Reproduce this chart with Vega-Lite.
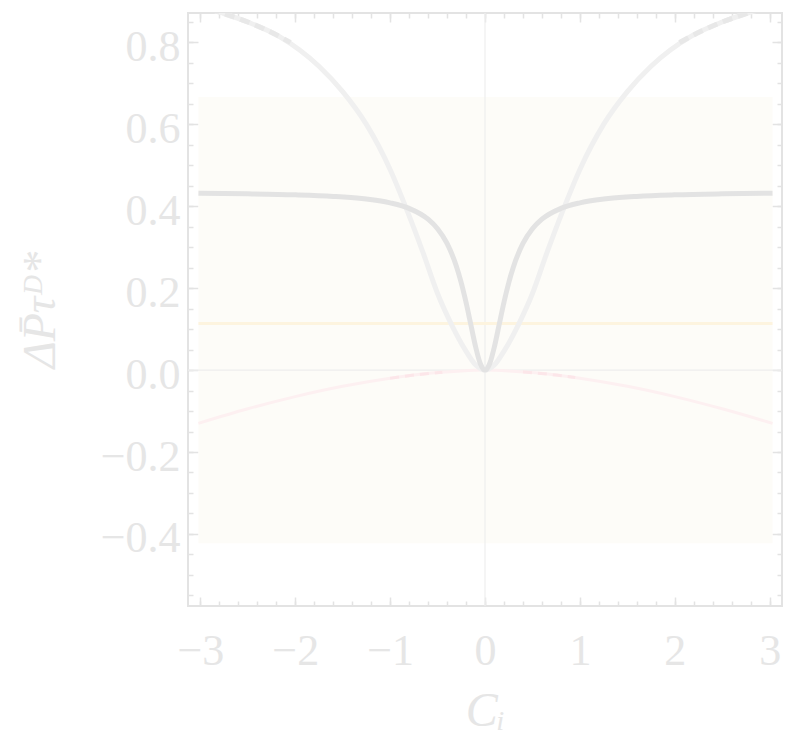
{
  "$schema": "https://vega.github.io/schema/vega-lite/v6.json",
  "width": 594,
  "height": 593,
  "autosize": {"type": "none"},
  "padding": {"left": 188, "top": 13, "right": 23, "bottom": 128},
  "background": "white",
  "config": {
    "view": {"stroke": "#e3e3e3", "strokeWidth": 2},
    "axis": {
      "domain": false,
      "grid": false,
      "labelFont": "Liberation Serif, DejaVu Serif, serif",
      "labelFontSize": 44,
      "labelColor": "#e6e6e6",
      "labelOverlap": false,
      "labelFlush": false,
      "tickColor": "#e3e3e3",
      "tickWidth": 1.5,
      "titleFont": "Liberation Serif, DejaVu Serif, serif",
      "titleColor": "#e6e6e6",
      "titleFontWeight": "normal"
    }
  },
  "datasets": {
    "band": [{"x1": -3.02, "x2": 3.03, "y1": -0.423, "y2": 0.667}],
    "zero": [{"z": 0}],
    "yellow": [{"x": -3.02, "y": 0.114}, {"x": 3.03, "y": 0.114}],
    "dark": [
      {"x": -3.02, "y": 0.432}, {"x": -2.5, "y": 0.4305}, {"x": -2.0, "y": 0.428}, {"x": -1.6, "y": 0.4242},
      {"x": -1.3, "y": 0.4189}, {"x": -1.0, "y": 0.4085}, {"x": -0.8, "y": 0.3949}, {"x": -0.6, "y": 0.3685},
      {"x": -0.5, "y": 0.3453}, {"x": -0.4, "y": 0.3093}, {"x": -0.3, "y": 0.2526}, {"x": -0.25, "y": 0.2132},
      {"x": -0.2, "y": 0.1657}, {"x": -0.15, "y": 0.1119}, {"x": -0.1, "y": 0.058}, {"x": -0.05, "y": 0.0161},
      {"x": 0, "y": 0},
      {"x": 0.05, "y": 0.0161}, {"x": 0.1, "y": 0.058}, {"x": 0.15, "y": 0.1119}, {"x": 0.2, "y": 0.1657},
      {"x": 0.25, "y": 0.2132}, {"x": 0.3, "y": 0.2526}, {"x": 0.4, "y": 0.3093}, {"x": 0.5, "y": 0.3453},
      {"x": 0.6, "y": 0.3685}, {"x": 0.8, "y": 0.3949}, {"x": 1.0, "y": 0.4085}, {"x": 1.3, "y": 0.4189},
      {"x": 1.6, "y": 0.4242}, {"x": 2.0, "y": 0.428}, {"x": 2.5, "y": 0.4305}, {"x": 3.03, "y": 0.432}
    ],
    "light": [
      {"x": -3.02, "y": 0.89}, {"x": -2.77, "y": 0.872}, {"x": -2.5, "y": 0.85}, {"x": -2.17, "y": 0.815},
      {"x": -1.75, "y": 0.742}, {"x": -1.5, "y": 0.68}, {"x": -1.25, "y": 0.6}, {"x": -1.0, "y": 0.49},
      {"x": -0.83, "y": 0.395}, {"x": -0.65, "y": 0.285}, {"x": -0.5, "y": 0.187}, {"x": -0.35, "y": 0.11},
      {"x": -0.21, "y": 0.05}, {"x": -0.1, "y": 0.013}, {"x": 0, "y": 0},
      {"x": 0.1, "y": 0.013}, {"x": 0.21, "y": 0.05}, {"x": 0.35, "y": 0.11}, {"x": 0.5, "y": 0.187},
      {"x": 0.65, "y": 0.285}, {"x": 0.83, "y": 0.395}, {"x": 1.0, "y": 0.49}, {"x": 1.25, "y": 0.6},
      {"x": 1.5, "y": 0.68}, {"x": 1.75, "y": 0.742}, {"x": 2.17, "y": 0.815}, {"x": 2.5, "y": 0.85},
      {"x": 2.77, "y": 0.872}, {"x": 3.03, "y": 0.89}
    ],
    "lightDash": [
      {"seg": "L", "x": -2.9, "y": 0.882}, {"seg": "L", "x": -2.77, "y": 0.872}, {"seg": "L", "x": -2.5, "y": 0.85},
      {"seg": "L", "x": -2.17, "y": 0.815}, {"seg": "L", "x": -2.05, "y": 0.8},
      {"seg": "R", "x": 2.05, "y": 0.8}, {"seg": "R", "x": 2.17, "y": 0.815}, {"seg": "R", "x": 2.5, "y": 0.85},
      {"seg": "R", "x": 2.77, "y": 0.872}, {"seg": "R", "x": 2.9, "y": 0.882}
    ],
    "pink": [
      {"x": -3.02, "y": -0.13}, {"x": -2.5, "y": -0.0945}, {"x": -2.0, "y": -0.0647}, {"x": -1.5, "y": -0.0396},
      {"x": -1.0, "y": -0.0199}, {"x": -0.75, "y": -0.0122}, {"x": -0.5, "y": -0.0061}, {"x": -0.25, "y": -0.0019},
      {"x": 0, "y": 0},
      {"x": 0.25, "y": -0.0019}, {"x": 0.5, "y": -0.0061}, {"x": 0.75, "y": -0.0122}, {"x": 1.0, "y": -0.0199},
      {"x": 1.5, "y": -0.0396}, {"x": 2.0, "y": -0.0647}, {"x": 2.5, "y": -0.0945}, {"x": 3.03, "y": -0.13}
    ],
    "pinkDash": [
      {"seg": "L", "x": -1.0, "y": -0.0199}, {"seg": "L", "x": -0.75, "y": -0.0122}, {"seg": "L", "x": -0.45, "y": -0.0051},
      {"seg": "R", "x": 0.4, "y": -0.0042}, {"seg": "R", "x": 0.75, "y": -0.0122}, {"seg": "R", "x": 0.95, "y": -0.0182}
    ]
  },
  "layer": [
    {
      "data": {"name": "band"},
      "mark": {"type": "rect", "fill": "#fdfcf8"},
      "encoding": {
        "x": {"field": "x1", "type": "quantitative",
              "scale": {"domain": [-3.13, 3.13], "nice": false, "zero": false},
              "axis": {"orient": "bottom", "values": [-3, -2, -1, 0, 1, 2, 3], "format": "d", "ticks": false,
                       "labelPadding": 23, "title": "Cᵢ", "titleFontSize": 48, "titleFontStyle": "italic", "titlePadding": 14}},
        "x2": {"field": "x2"},
        "y": {"field": "y1", "type": "quantitative",
              "scale": {"domain": [-0.576, 0.872], "nice": false, "zero": false},
              "axis": {"orient": "left", "values": [-0.4, -0.2, 0, 0.2, 0.4, 0.6, 0.8], "format": ".1f", "ticks": false,
                       "labelPadding": 8, "labelOffset": 5, "title": "ΔP̄τᴰ*", "titleFontSize": 46, "titleFontStyle": "italic", "titlePadding": 36}},
        "y2": {"field": "y2"}
      }
    },
    {
      "data": {"name": "zero"},
      "mark": {"type": "rule", "color": "#eeeeee", "strokeWidth": 1.2},
      "encoding": {
        "y": {"field": "z", "type": "quantitative", "scale": {"domain": [-0.576, 0.872], "nice": false, "zero": false}, "axis": null}
      }
    },
    {
      "data": {"name": "zero"},
      "mark": {"type": "rule", "color": "#eeeeee", "strokeWidth": 1.2},
      "encoding": {
        "x": {"field": "z", "type": "quantitative", "scale": {"domain": [-3.13, 3.13], "nice": false, "zero": false}, "axis": null}
      }
    },
    {
      "data": {"name": "yellow"},
      "mark": {"type": "line", "color": "#fdf4df", "strokeWidth": 3},
      "encoding": {
        "x": {"field": "x", "type": "quantitative", "scale": {"domain": [-3.13, 3.13], "nice": false, "zero": false},
              "axis": {"orient": "top", "values": [-3, -2.8, -2.6, -2.4, -2.2, -2, -1.8, -1.6, -1.4, -1.2, -1, -0.8, -0.6, -0.4, -0.2, 0, 0.2, 0.4, 0.6, 0.8, 1, 1.2, 1.4, 1.6, 1.8, 2, 2.2, 2.4, 2.6, 2.8, 3],
                       "labels": false, "tickSize": -5, "title": null}},
        "y": {"field": "y", "type": "quantitative", "scale": {"domain": [-0.576, 0.872], "nice": false, "zero": false},
              "axis": {"orient": "right", "values": [-0.55, -0.5, -0.45, -0.4, -0.35, -0.3, -0.25, -0.2, -0.15, -0.1, -0.05, 0, 0.05, 0.1, 0.15, 0.2, 0.25, 0.3, 0.35, 0.4, 0.45, 0.5, 0.55, 0.6, 0.65, 0.7, 0.75, 0.8, 0.85],
                       "labels": false, "tickSize": -5, "title": null}}
      }
    },
    {
      "data": {"name": "pink"},
      "mark": {"type": "line", "color": "#fdf0f1", "strokeWidth": 3, "interpolate": "monotone"},
      "encoding": {
        "x": {"field": "x", "type": "quantitative", "scale": {"domain": [-3.13, 3.13], "nice": false, "zero": false},
              "axis": {"orient": "bottom", "values": [-3, -2.8, -2.6, -2.4, -2.2, -2, -1.8, -1.6, -1.4, -1.2, -1, -0.8, -0.6, -0.4, -0.2, 0, 0.2, 0.4, 0.6, 0.8, 1, 1.2, 1.4, 1.6, 1.8, 2, 2.2, 2.4, 2.6, 2.8, 3],
                       "labels": false, "tickSize": -5, "title": null}},
        "y": {"field": "y", "type": "quantitative", "scale": {"domain": [-0.576, 0.872], "nice": false, "zero": false},
              "axis": {"orient": "left", "values": [-0.55, -0.5, -0.45, -0.4, -0.35, -0.3, -0.25, -0.2, -0.15, -0.1, -0.05, 0, 0.05, 0.1, 0.15, 0.2, 0.25, 0.3, 0.35, 0.4, 0.45, 0.5, 0.55, 0.6, 0.65, 0.7, 0.75, 0.8, 0.85],
                       "labels": false, "tickSize": -5, "title": null}}
      }
    },
    {
      "data": {"name": "pinkDash"},
      "mark": {"type": "line", "color": "#fce6e9", "strokeWidth": 3, "strokeDash": [9, 6], "interpolate": "monotone"},
      "encoding": {
        "x": {"field": "x", "type": "quantitative", "scale": {"domain": [-3.13, 3.13], "nice": false, "zero": false}, "axis": null},
        "y": {"field": "y", "type": "quantitative", "scale": {"domain": [-0.576, 0.872], "nice": false, "zero": false}, "axis": null},
        "detail": {"field": "seg", "type": "nominal"}
      }
    },
    {
      "data": {"name": "light"},
      "mark": {"type": "line", "color": "#f0f0f0", "strokeWidth": 5, "interpolate": "monotone", "clip": true},
      "encoding": {
        "x": {"field": "x", "type": "quantitative", "scale": {"domain": [-3.13, 3.13], "nice": false, "zero": false},
              "axis": {"orient": "bottom", "values": [-3, -2, -1, 0, 1, 2, 3], "labels": false, "tickSize": -9, "title": null}},
        "y": {"field": "y", "type": "quantitative", "scale": {"domain": [-0.576, 0.872], "nice": false, "zero": false},
              "axis": {"orient": "left", "values": [-0.4, -0.2, 0, 0.2, 0.4, 0.6, 0.8], "labels": false, "tickSize": -10, "title": null}}
      }
    },
    {
      "data": {"name": "lightDash"},
      "mark": {"type": "line", "color": "#e8e8e8", "strokeWidth": 5, "strokeDash": [10, 6], "interpolate": "monotone", "clip": true},
      "encoding": {
        "x": {"field": "x", "type": "quantitative", "scale": {"domain": [-3.13, 3.13], "nice": false, "zero": false}, "axis": null},
        "y": {"field": "y", "type": "quantitative", "scale": {"domain": [-0.576, 0.872], "nice": false, "zero": false}, "axis": null},
        "detail": {"field": "seg", "type": "nominal"}
      }
    },
    {
      "data": {"name": "dark"},
      "mark": {"type": "line", "color": "#e3e3e3", "strokeWidth": 5, "interpolate": "monotone"},
      "encoding": {
        "x": {"field": "x", "type": "quantitative", "scale": {"domain": [-3.13, 3.13], "nice": false, "zero": false},
              "axis": {"orient": "top", "values": [-3, -2, -1, 0, 1, 2, 3], "labels": false, "tickSize": -9, "title": null}},
        "y": {"field": "y", "type": "quantitative", "scale": {"domain": [-0.576, 0.872], "nice": false, "zero": false},
              "axis": {"orient": "right", "values": [-0.4, -0.2, 0, 0.2, 0.4, 0.6, 0.8], "labels": false, "tickSize": -10, "title": null}}
      }
    }
  ],
  "resolve": {"axis": {"x": "independent", "y": "independent"}}
}
